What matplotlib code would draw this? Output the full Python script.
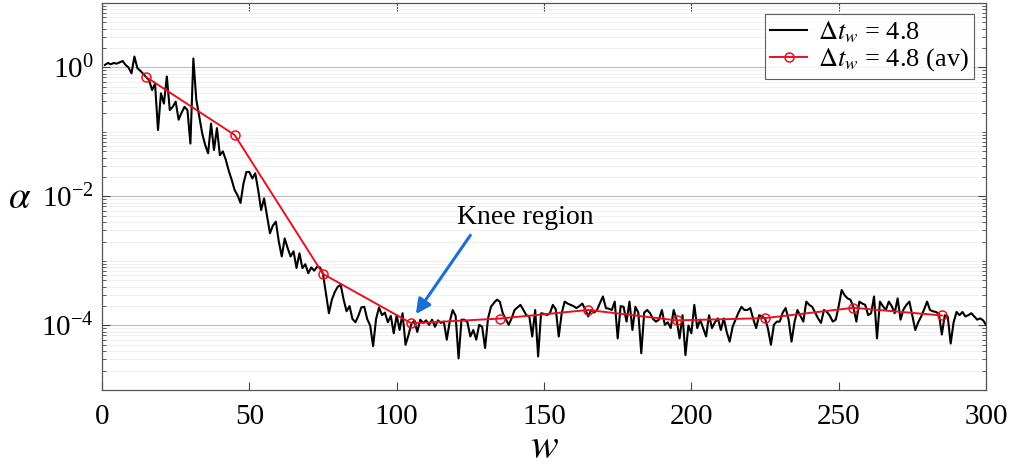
import numpy as np
import matplotlib
matplotlib.use("Agg")
import matplotlib.pyplot as plt
from matplotlib.ticker import FixedLocator, LogFormatterMathtext, NullFormatter

plt.rcParams["font.family"] = ["Liberation Serif", "DejaVu Serif"]
plt.rcParams["mathtext.fontset"] = "stix"

# Raw signal: window size w and log10 of alpha
w_raw = list(range(1, 301))
alpha_log10 = [
    0.04, 0.07, 0.05, 0.07, 0.06, 0.08, 0.10, 0.04, 0.00, -0.09,
    0.17, -0.01, -0.05, -0.10, -0.15, -0.20, -0.35, -0.25, -0.97, -0.40,
    -0.56, -0.14, -0.66, -0.61, -0.53, -0.81, -0.70, -0.61, -0.66, -1.18,
    0.14, -0.50, -0.76, -1.02, -1.20, -1.33, -0.87, -1.28, -0.94, -1.36,
    -1.30, -1.43, -1.60, -1.74, -1.90, -1.98, -2.10, -1.80, -1.62, -1.62,
    -1.72, -1.64, -1.90, -2.21, -2.03, -2.30, -2.57, -2.45, -2.39, -2.70,
    -2.93, -2.65, -2.80, -2.93, -2.85, -3.11, -2.88, -3.11, -3.05, -3.19,
    -3.10, -3.15, -3.09, -3.10, -3.20, -3.50, -3.81, -3.60, -3.48, -3.40,
    -3.37, -3.60, -3.78, -3.70, -3.90, -3.95, -3.85, -3.72, -3.71, -3.90,
    -4.00, -4.32, -3.90, -3.72, -3.84, -3.80, -3.95, -3.85, -4.12, -3.84,
    -4.07, -3.81, -4.30, -4.15, -3.97, -3.93, -4.10, -3.91, -3.96, -3.92,
    -3.99, -3.91, -4.02, -3.92, -3.96, -3.94, -4.22, -3.94, -3.76, -3.85,
    -4.51, -3.91, -3.91, -3.95, -4.17, -4.07, -4.22, -3.99, -4.02, -4.35,
    -3.89, -3.71, -3.65, -3.60, -3.63, -3.81, -3.90, -3.99, -3.89, -3.76,
    -3.72, -3.68, -3.76, -3.84, -3.86, -4.17, -3.76, -4.48, -3.81, -3.82,
    -3.84, -3.81, -3.68, -3.75, -4.17, -3.81, -3.63, -3.66, -3.68, -3.70,
    -3.73, -3.70, -3.66, -3.75, -3.86, -3.76, -3.80, -3.76, -3.65, -3.55,
    -3.73, -3.74, -3.76, -3.63, -4.20, -3.70, -3.71, -3.94, -3.63, -4.07,
    -3.71, -3.80, -4.43, -3.80, -3.76, -3.81, -3.90, -3.94, -3.91, -3.76,
    -3.99, -3.95, -4.04, -3.76, -3.91, -4.20, -3.84, -4.46, -4.00, -4.12,
    -3.68, -4.04, -3.91, -4.04, -4.17, -3.84, -4.04, -3.95, -3.89, -4.07,
    -3.89, -4.10, -4.25, -4.02, -3.91, -3.80, -3.71, -3.76, -3.76, -3.73,
    -3.90, -4.04, -3.84, -3.86, -3.89, -4.05, -4.30, -3.99, -3.94, -3.94,
    -3.80, -3.73, -3.91, -4.25, -3.95, -3.76, -3.85, -3.94, -3.63, -3.68,
    -3.71, -3.80, -3.89, -3.96, -3.76, -3.79, -3.85, -3.94, -3.91, -3.70,
    -3.45, -3.53, -3.58, -3.60, -3.72, -3.94, -3.63, -3.66, -3.68, -3.84,
    -3.81, -3.55, -4.20, -3.63, -3.70, -3.76, -3.63, -3.70, -3.81, -3.58,
    -3.91, -3.75, -3.68, -3.63, -3.85, -4.07, -3.95, -3.86, -3.75, -3.63,
    -3.76, -3.78, -3.79, -3.82, -4.14, -3.84, -3.86, -4.28, -3.95, -3.79,
    -3.84, -3.79, -3.86, -3.84, -3.81, -3.86, -3.91, -3.89, -3.92, -3.99]

# Window-averaged values
w_av = [15, 45, 75, 105, 135, 165, 195, 225, 255, 285]
alpha_av = [0.71, 0.090, 6.3e-4, 1.08e-4, 1.28e-4, 1.74e-4, 1.20e-4, 1.30e-4, 1.88e-4, 1.43e-4]

x_ticks = [0, 50, 100, 150, 200, 250, 300]
y_ticks = [1e-4, 1e-2, 1e0]

alpha_raw = 10.0 ** np.asarray(alpha_log10)

fig = plt.figure(figsize=(10.11, 4.68), dpi=100)
ax = fig.add_axes([0.1009, 0.1667, 0.8744, 0.8269])

ax.plot(w_raw, alpha_raw, color="black", lw=1.5, label=r"$\Delta t_w$ = 4.8")
ax.plot(w_av, alpha_av, color="#e8101e", lw=1.4, marker="o", ms=6.5,
        mfc="none", mec="#e8101e", mew=1.1, label=r"$\Delta t_w$ = 4.8 (av)")

ax.set_yscale("log")
ax.set_xlim(0, 300)
ax.set_ylim(1e-5, 1e1)
ax.set_xticks(x_ticks)
ax.yaxis.set_major_locator(FixedLocator(y_ticks))
ax.yaxis.set_major_formatter(LogFormatterMathtext())
minor = [m * 10.0 ** e for e in range(-5, 1) for m in range(1, 10)]
minor = [v for v in minor if v not in y_ticks]
ax.yaxis.set_minor_locator(FixedLocator(minor))
ax.yaxis.set_minor_formatter(NullFormatter())

ax.tick_params(axis="both", which="both", direction="in", top=True, right=True,
               labelsize=21, color="#444444")
ax.tick_params(axis="x", which="major", length=6, width=0.8, pad=10)
ax.tick_params(axis="y", which="major", length=6, width=0.8, pad=6)
ax.tick_params(axis="y", which="minor", length=3, width=0.6)

ax.grid(axis="y", which="major", color="#bcbcbc", lw=0.8)
ax.grid(axis="y", which="minor", color="#f0f0f0", lw=0.7)
for s in ax.spines.values():
    s.set_color("#555555")
    s.set_linewidth(0.9)

ax.set_xlabel(r"$w$", fontsize=30, va="center")
ax.xaxis.set_label_coords(0.5, -0.148)
ax.set_ylabel(r"$\alpha$", fontsize=28, rotation=0, va="center")
ax.yaxis.set_label_coords(-0.093, 0.495)

ax.text(143.5, 4.8e-3, "Knee region", fontsize=20, ha="center", va="center")
ax.annotate("", xy=(106.5, 1.5e-4), xytext=(125, 2.5e-3),
            arrowprops=dict(arrowstyle="-|>", color="#1a6fd1", lw=2.2,
                            mutation_scale=22, shrinkA=0, shrinkB=0))

leg = ax.legend(loc="upper right", fontsize=19, frameon=True, fancybox=False,
                borderpad=0.2, handlelength=1.4, handletextpad=0.4,
                labelspacing=0.05, borderaxespad=0.0,
                bbox_to_anchor=(0.9864, 0.9708))
leg.get_frame().set_edgecolor("#333333")
leg.get_frame().set_linewidth(0.8)

fig.savefig("out.png", dpi=100)
